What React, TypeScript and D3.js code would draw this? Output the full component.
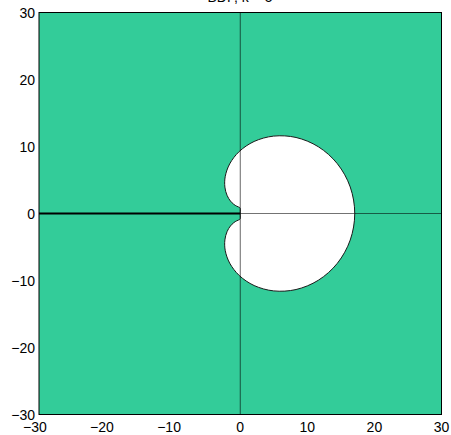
import React from "react";
import * as d3 from "d3";

// Boundary of the white region, closed loop
const boundaryRe = [
  0, 0.0, 0.0002, 0.0014, -0.0038, -0.1083, -0.2708, -0.5521, -0.9625, -1.4667,
  -1.965, -2.2915, -2.2336, -1.575, -0.1552, 2.0704, 4.9878, 8.3153, 11.6373,
  14.4769, 16.391, 17.0667,
  16.391, 14.4769, 11.6373, 8.3153, 4.9878, 2.0704, -0.1552, -1.575, -2.2336,
  -2.2915, -1.965, -1.4667, -0.9625, -0.5521, -0.2708, -0.1083, -0.0038, 0.0014,
  0.0002, 0.0,
];
const boundaryIm = [
  0, 0.1745, 0.3489, 0.5207, 0.7511, 0.9093, 0.9817, 1.1069, 1.3672, 1.8667,
  2.7054, 3.9418, 5.5528, 7.4045, 9.2487, 10.7511, 11.5519, 11.346, 9.9633,
  7.4268, 3.9691, 0,
  -3.9691, -7.4268, -9.9633, -11.346, -11.5519, -10.7511, -9.2487, -7.4045,
  -5.5528, -3.9418, -2.7054, -1.8667, -1.3672, -1.1069, -0.9817, -0.9093,
  -0.7511, -0.5207, -0.3489, -0.1745,
];

const xTicks = [-30, -20, -10, 0, 10, 20, 30];
const yTicks = [-30, -20, -10, 0, 10, 20, 30];
const titleText = "BDF, k = 5";

const W = 451;
const H = 435;
const FONT = "'Liberation Sans', Arial, Helvetica, sans-serif";

export default function App() {
  const x = d3.scaleLinear().domain([-30, 30]).range([39, 441.5]);
  const y = d3.scaleLinear().domain([-30, 30]).range([414.5, 12.5]);

  const pts: [number, number][] = boundaryRe.map((r, i) => [r, boundaryIm[i]]);
  const line = d3
    .line<[number, number]>()
    .x((d) => x(d[0]))
    .y((d) => y(d[1]))
    .curve(d3.curveCatmullRomClosed.alpha(0.5));
  const pathD = line(pts) || "";

  const fs = 14;
  const digitW = 0.556 * fs;
  const labelText = (v: number) => (v < 0 ? "\u2212" + Math.abs(v) : String(v));

  return (
    <svg
      width={W}
      height={H}
      style={{ position: "fixed", left: 0, top: 0, background: "#fff" }}
      fontFamily={FONT}
    >
      <text x={240} y={2} textAnchor="middle" fontSize={14} fill="#000">
        {titleText}
      </text>
      <rect
        x={x(-30)}
        y={y(30)}
        width={x(30) - x(-30)}
        height={y(-30) - y(30)}
        fill="#33cc99"
      />
      <path d={pathD} fill="#ffffff" stroke="#1a1a1a" strokeWidth={1} />
      {/* imaginary axis */}
      <line
        x1={x(0)}
        x2={x(0)}
        y1={y(30)}
        y2={y(-30)}
        stroke="#000"
        strokeOpacity={0.6}
        strokeWidth={1}
      />
      {/* positive real axis */}
      <line
        x1={x(0)}
        x2={x(30)}
        y1={y(0)}
        y2={y(0)}
        stroke="#000"
        strokeOpacity={0.55}
        strokeWidth={1}
      />
      {/* negative real axis, thick */}
      <line
        x1={x(-30)}
        x2={x(0)}
        y1={y(0)}
        y2={y(0)}
        stroke="#000"
        strokeWidth={2}
      />
      <rect
        x={x(-30)}
        y={y(30)}
        width={x(30) - x(-30)}
        height={y(-30) - y(30)}
        fill="none"
        stroke="#000"
        strokeWidth={1}
      />
      {xTicks.map((t) => {
        const digits = String(Math.abs(t)).length * digitW;
        return (
          <text
            key={"x" + t}
            x={x(t) + digits / 2}
            y={432}
            textAnchor="end"
            fontSize={fs}
            fill="#000"
          >
            {labelText(t)}
          </text>
        );
      })}
      {yTicks.map((t) => (
        <text
          key={"y" + t}
          x={35}
          y={y(t) + 5}
          textAnchor="end"
          fontSize={fs}
          fill="#000"
        >
          {labelText(t)}
        </text>
      ))}
    </svg>
  );
}
